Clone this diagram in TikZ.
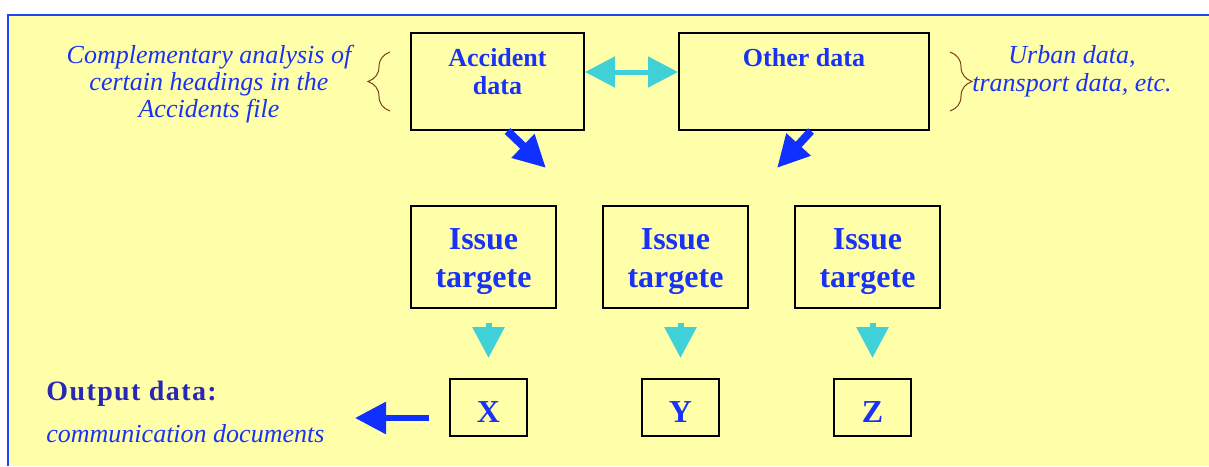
\documentclass[tikz,border=0pt]{standalone}
\usepackage{fontspec}
\setmainfont{Liberation Serif}
\usetikzlibrary{arrows.meta,decorations.pathreplacing}
\definecolor{bgyellow}{RGB}{255,255,170}
\definecolor{frameblue}{RGB}{30,70,245}
\definecolor{txtblue}{RGB}{25,50,245}
\definecolor{arrblue}{RGB}{16,48,255}
\definecolor{arrcyan}{RGB}{64,208,216}
\definecolor{bracebrown}{RGB}{125,60,30}
\definecolor{outblue}{RGB}{40,40,180}
\begin{document}
\begin{tikzpicture}[x=0.5pt,y=-0.5pt,
  box/.style={draw=black,line width=1pt,inner sep=0pt},
  head/.style={text=txtblue,inner sep=0pt,align=center,font=\fontsize{13}{14}\selectfont\bfseries},
  issue/.style={box,minimum width=72.5pt,minimum height=51pt,text=txtblue,align=center,text height=30pt,text depth=0pt,font=\fontsize{16}{19}\selectfont\bfseries},
  outbox/.style={box,minimum width=38.5pt,minimum height=28.5pt,text=txtblue,text height=14.5pt,text depth=0pt,font=\fontsize{16}{19}\selectfont\bfseries},
  note/.style={text=txtblue,inner sep=0pt,align=center,font=\fontsize{13}{13.5}\selectfont\itshape},
  thickblue/.style={arrblue,line width=4pt,-{Triangle[length=16pt,width=15.5pt]}},
  thincyan/.style={arrcyan,line width=3pt,-{Triangle[length=15.5pt,width=15.5pt]},shorten <=7pt,shorten >=10pt},
  curly/.style={bracebrown,line width=0.5pt,decorate,decoration={brace,amplitude=11pt}}]
\useasboundingbox (0,0) rectangle (1209,466);
\fill[bgyellow] (8,14.5) rectangle (1209,466);
\draw[frameblue,line width=1pt] (8,466)--(8,14.5)--(1209,14.5);
%
\node[box,minimum width=86.5pt,minimum height=48.5pt] (acc) at (497.5,81.5) {};
\node[head,anchor=north,yshift=-8pt] (acctxt) at (acc.north) {Accident\\data};
\node[box,minimum width=125pt,minimum height=48.5pt] (oth) at (804,81.5) {};
\node[head,anchor=north,yshift=-8pt] (othtxt) at (oth.north) {Other data};
\draw[arrcyan,line width=2.5pt,{Triangle[length=15pt,width=15pt]}-{Triangle[length=15pt,width=15pt]}]
  ([yshift=4.75pt]acc.east)--([yshift=4.75pt]oth.west);
%
\node[note,anchor=north] (lnote) at (209,45) {Complementary analysis of\\certain headings in the\\Accidents file};
\node[note,anchor=north,font=\fontsize{13}{14}\selectfont\itshape] (rnote) at (1072,45) {Urban data,\\transport data, etc.};
\draw[curly] (390,111)--(390,52);
\draw[curly] (950,52)--(950,111);
%
\coordinate (acctip) at (546,168);
\coordinate (othtip) at (777,168);
\draw[thickblue] ([xshift=5pt]acc.south)--(acctip);
\draw[thickblue] ([xshift=3.5pt]oth.south)--(othtip);
%
\node[issue] (t1) at (483.5,257) {Issue\\targete};
\node[issue] (t2) at (675.5,257) {Issue\\targete};
\node[issue] (t3) at (867.5,257) {Issue\\targete};
\node[outbox] (x1) at (488.5,407.5) {X};
\node[outbox] (x2) at (680.5,407.5) {Y};
\node[outbox] (x3) at (872.5,407.5) {Z};
\draw[thincyan] (t1.south -| x1.north)--(x1.north);
\draw[thincyan] (t2.south -| x2.north)--(x2.north);
\draw[thincyan] (t3.south -| x3.north)--(x3.north);
%
\node[anchor=base west,inner sep=0pt,text=outblue,font=\fontsize{14}{16}\selectfont\bfseries\addfontfeatures{LetterSpace=5}] (outlbl) at (46,400) {Output data:};
\node[note,anchor=base west] (outnote) at (46,442) {communication documents};
\draw[arrblue,line width=3pt,-{Triangle[length=15.5pt,width=15.5pt]}]
  ([xshift=-10pt,yshift=-5.25pt]x1.west)--(355,418);
\end{tikzpicture}
\end{document}
